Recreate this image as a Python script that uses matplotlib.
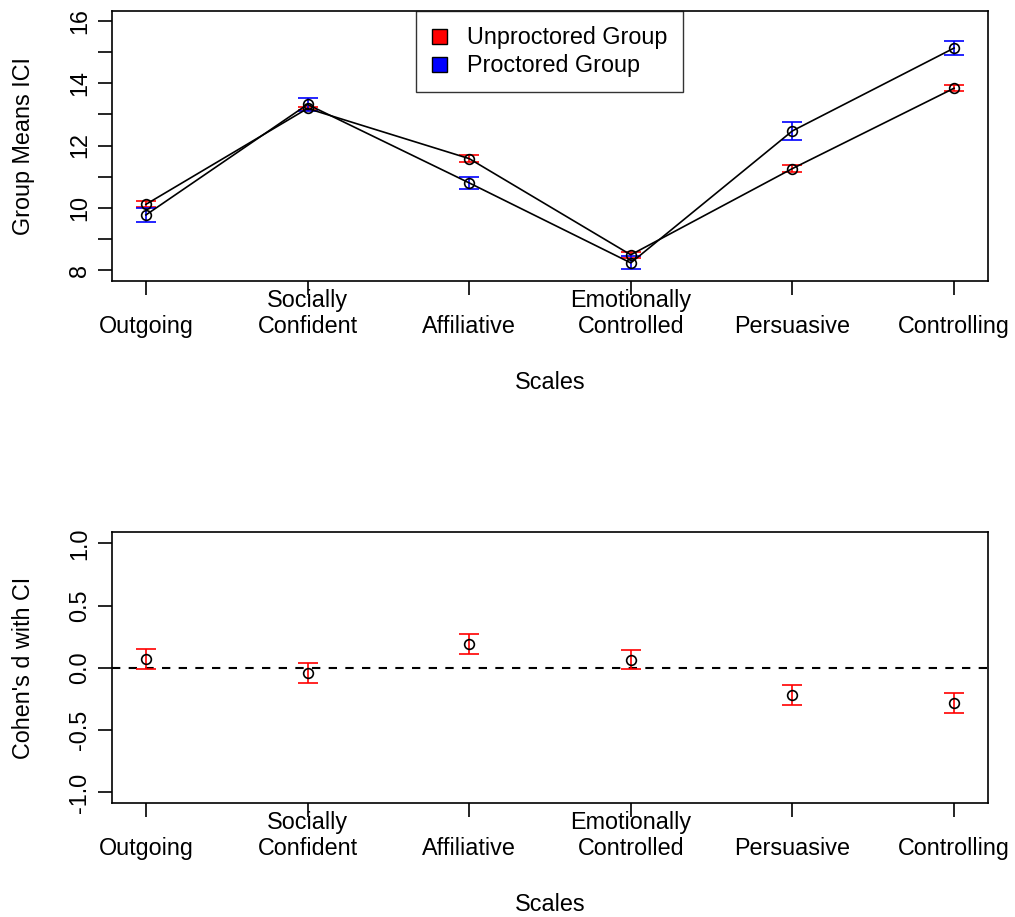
import numpy as np
import matplotlib.pyplot as plt
from matplotlib.lines import Line2D

plt.rcParams['font.family'] = ['Liberation Sans', 'DejaVu Sans']

scales = ["Outgoing", "Socially\nConfident", "Affiliative",
          "Emotionally\nControlled", "Persuasive", "Controlling"]

# group means with CI half-widths
unproc_mean = [10.11, 13.19, 11.58, 8.49, 11.26, 13.84]
unproc_ci = [0.10, 0.06, 0.10, 0.09, 0.12, 0.10]
proc_mean = [9.77, 13.32, 10.80, 8.23, 12.47, 15.13]
proc_ci = [0.23, 0.21, 0.20, 0.21, 0.29, 0.23]

# effect sizes
cohens_d = [0.07, -0.04, 0.19, 0.065, -0.22, -0.28]
d_ci = [0.08, 0.08, 0.08, 0.075, 0.08, 0.08]

x = np.arange(1, len(scales) + 1)
xlabels = [s if "\n" in s else "\n" + s for s in scales]

fig = plt.figure(figsize=(10.15, 9.17), dpi=100)
ax1 = fig.add_axes([0.1103, 0.6936, 0.8631, 0.2944])
ax2 = fig.add_axes([0.1103, 0.1243, 0.8631, 0.2955])

fs = 16.8
ebkw = dict(fmt='none', capsize=7.2, elinewidth=1.2, capthick=1.2, zorder=2)

# top panel: means
ax1.errorbar(x, unproc_mean, yerr=unproc_ci, ecolor='red', **ebkw)
ax1.errorbar(x, proc_mean, yerr=proc_ci, ecolor='blue', **ebkw)
for m in (unproc_mean, proc_mean):
    ax1.plot(x, m, color='black', lw=1.2, zorder=3)
    ax1.plot(x, m, 'o', mfc='none', mec='black', ms=7, mew=1.2, zorder=4)

ax1.set_xlim(0.79, 6.21)
ax1.set_ylim(7.65, 16.32)
ax1.set_yticks(np.arange(8, 17, 1))
ax1.set_yticklabels([str(v) if v % 2 == 0 else '' for v in range(8, 17)])
ax1.set_ylabel("Group Means ICI", fontsize=fs)

handles = [Line2D([], [], ls='none', marker='s', ms=10.8, mfc='red', mec='black', mew=1),
           Line2D([], [], ls='none', marker='s', ms=10.8, mfc='blue', mec='black', mew=1)]
leg = ax1.legend(handles, ["Unproctored Group", "Proctored Group"],
                 loc='upper left', bbox_to_anchor=(0.347, 1.0), fontsize=fs,
                 frameon=True, fancybox=False, edgecolor='black',
                 handletextpad=0.9, borderpad=0.65, labelspacing=0.2,
                 handlelength=0.65, borderaxespad=0)
leg.get_frame().set_linewidth(1.0)

# bottom panel: effect sizes
ax2.axhline(0, color='black', lw=1.5, ls=(0, (4, 4)), zorder=1)
ax2.errorbar(x, cohens_d, yerr=d_ci, ecolor='red', **ebkw)
ax2.plot(x, cohens_d, 'o', mfc='none', mec='black', ms=7, mew=1.2, zorder=4)
ax2.set_xlim(0.79, 6.21)
ax2.set_ylim(-1.085, 1.09)
ax2.set_yticks([-1.0, -0.5, 0.0, 0.5, 1.0])
ax2.set_yticklabels(["-1.0", "-0.5", "0.0", "0.5", "1.0"])
ax2.set_ylabel("Cohen's d with CI", fontsize=fs)

for ax in (ax1, ax2):
    ax.set_xticks(x)
    ax.set_xticklabels(xlabels, fontsize=fs, linespacing=1.15)
    ax.set_xlabel("Scales", fontsize=fs, labelpad=24)
    ax.yaxis.set_label_coords(-0.088, 0.5)
    ax.tick_params(axis='x', length=10, width=1.2, pad=-4)
    ax.tick_params(axis='y', length=10, width=1.2, labelsize=fs, pad=5)
    for lab in ax.get_yticklabels():
        lab.set_rotation(90)
        lab.set_va('center')
    for sp in ax.spines.values():
        sp.set_linewidth(1.2)

fig.savefig("out.png", dpi=100)
